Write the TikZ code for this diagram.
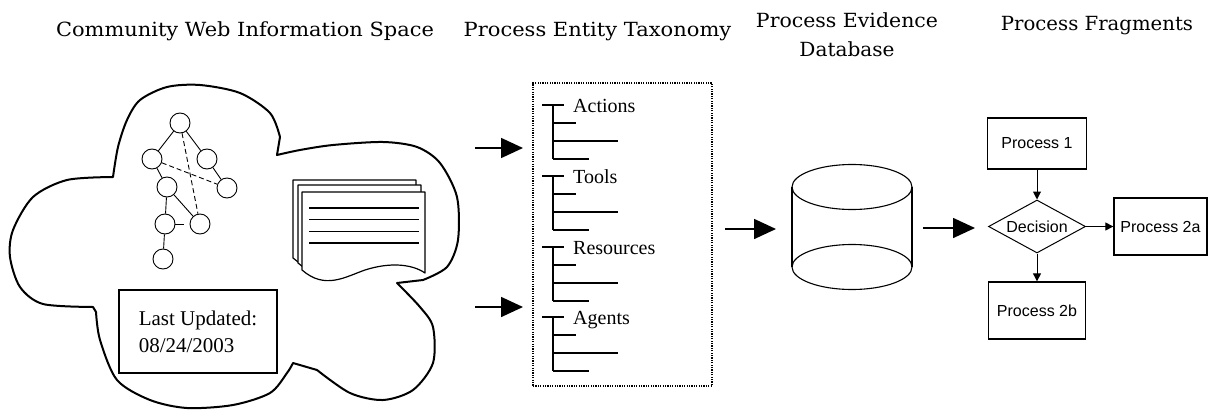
\documentclass[tikz,border=0pt]{standalone}
\usepackage{fontspec}
\setmainfont{Liberation Serif}
\newfontfamily\titlef{DejaVu Serif}
\newfontfamily\procf{Liberation Sans}
\usetikzlibrary{arrows.meta,shapes.geometric}
\begin{document}
\begin{tikzpicture}[x=1pt,y=-1pt,
  title/.style={font=\titlef\fontsize{19.5}{24}\selectfont, anchor=base, inner sep=0pt},
  bigarrow/.style={line width=1.6pt, -{Triangle[length=22pt,width=20pt]}},
  smallarrow/.style={line width=1pt, -{Triangle[length=8pt,width=8pt]}},
  gnode/.style={circle, draw, line width=0.9pt, minimum size=20pt, inner sep=0pt},
  gedge/.style={line width=0.9pt},
  gdash/.style={line width=0.9pt, dash pattern=on 5pt off 3pt},
  procbox/.style={draw, line width=1.3pt, font=\procf\fontsize{16}{19}\selectfont, inner sep=0pt},
  taxlabel/.style={font=\fontsize{20}{24}\selectfont, anchor=base west, inner sep=0pt},
  treeline/.style={line width=1.6pt},
  page/.style={draw, fill=white, line width=1.2pt, line join=round}]
\useasboundingbox (0,0) rectangle (1210,412);

% titles
\node[title] (t1) at (245,37) {\scalebox{1.074}[1]{Community Web Information Space}};
\node[title] (t2) at (597.5,37) {\scalebox{1.077}[1]{Process Entity Taxonomy}};
\node[title] (t3a) at (847,28) {\scalebox{1.05}[1]{Process Evidence}};
\node[title] (t3b) at (847,57) {\scalebox{1.03}[1]{Database}};
\node[title] (t4) at (1097,31) {\scalebox{1.01}[1]{Process Fragments}};

% cloud
\draw[line width=2pt, line join=round]
 plot[smooth] coordinates {(113,177) (67,180) (33,197) (13,230) (10,257) (20,287) (43,304) (93,307)}
 -- plot[smooth] coordinates {(96,312) (100,340) (117,380) (150,400) (187,408) (233,405) (270,393) (287,373) (293,363)}
 -- plot[smooth] coordinates {(317,370) (350,393) (383,400) (413,390) (433,363) (433,327) (420,307) (397,283)}
 -- plot[smooth] coordinates {(423,280) (447,267) (458,240) (457,197) (440,163) (417,147) (383,142) (333,145) (300,150) (277,155)}
 -- plot[smooth] coordinates {(280,137) (270,113) (240,93) (200,85) (167,87) (140,100) (127,120) (118,147) (113,177)}
 -- cycle;

% graph
\node[gnode] (n1) at (180,123) {};
\node[gnode] (n2) at (152,159) {};
\node[gnode] (n3) at (207,159) {};
\node[gnode] (n4) at (167,187) {};
\node[gnode] (n5) at (227,188) {};
\node[gnode] (n6) at (165,224) {};
\node[gnode] (n7) at (200,224) {};
\node[gnode] (n8) at (163,259) {};
\draw[gedge] (n1) -- (n2);
\draw[gedge] (n1) -- (n3);
\draw[gedge] (n3) -- (n5);
\draw[gedge] (n2) -- (n4);
\draw[gedge] (n4) -- (n6);
\draw[gedge] (n4) -- (n7);
\draw[gedge] (n6) -- (n8);
\draw[gdash] (n1) -- (n7);
\draw[gdash] (n2) -- (n5);
\draw[line width=0.9pt, dash pattern=on 9pt off 20pt] (n6) -- (n7);

% pages
\begin{scope}[shift={(-9,-12)}]
\path[page] (302,192) -- (425,192) -- (425,273) .. controls (412,264) and (390,262) .. (365,270) .. controls (345,277) and (325,290) .. (302,270) -- cycle;
\end{scope}
\begin{scope}[shift={(-4,-7)}]
\path[page] (302,192) -- (425,192) -- (425,273) .. controls (412,264) and (390,262) .. (365,270) .. controls (345,277) and (325,290) .. (302,270) -- cycle;
\end{scope}
\path[page] (302,192) -- (425,192) -- (425,273) .. controls (412,264) and (390,262) .. (365,270) .. controls (345,277) and (325,290) .. (302,270) -- cycle;
\foreach \yy in {208,219.5,231.5,243}{\draw[line width=1.2pt] (309,\yy) -- (419,\yy);}

% last updated
\node[draw, line width=1.3pt, minimum width=158pt, minimum height=83pt, align=left,
      font=\fontsize{21}{27}\selectfont] (upd) at (198,331.5) {Last Updated:\\08/24/2003};

% arrows into taxonomy
\coordinate (i1s) at (475,148); \coordinate (i1e) at (523,148);
\coordinate (i2s) at (475,307); \coordinate (i2e) at (523,307);
\draw[bigarrow] (i1s) -- (i1e);
\draw[bigarrow] (i2s) -- (i2e);

% taxonomy
\node[draw, line width=1.2pt, dash pattern=on 1.2pt off 1.2pt, minimum width=179pt,
      minimum height=303pt, inner sep=0pt] (tax) at (622.5,234.5) {};
\foreach \yy/\lab in {105/Actions,176/Tools,247/Resources,317/Agents}{
  \draw[treeline] (542,\yy) -- (564,\yy) (553,\yy) -- (553,\yy+54)
     (553,\yy+18) -- (576,\yy+18) (553,\yy+36) -- (618,\yy+36) (553,\yy+54) -- (589,\yy+54);
  \node[taxlabel] (lab-\lab) at (573,\yy+7) {\lab};
}

% arrow to database
\coordinate (d1s) at (725,229); \coordinate (d1e) at (776,229);
\draw[bigarrow] (d1s) -- (d1e);

% database cylinder
\draw[line width=1.1pt] (852,187) ellipse [x radius=60pt, y radius=22.5pt];
\draw[line width=1.1pt] (852,267) ellipse [x radius=60pt, y radius=22.5pt];
\draw[line width=1.1pt] (792,187) -- (792,267) (912,187) -- (912,267);

% arrow to fragments
\coordinate (f1s) at (923,228); \coordinate (f1e) at (975,228);
\draw[bigarrow] (f1s) -- (f1e);

% process fragments
\node[procbox, minimum width=99pt, minimum height=51pt] (p1) at (1037,143.5) {Process 1};
\node[diamond, draw, line width=1pt, minimum width=97pt, minimum height=53pt, inner sep=0pt,
      aspect=1.83, font=\procf\fontsize{16}{19}\selectfont] (dec) at (1037,226.5) {Decision};
\node[procbox, minimum width=93pt, minimum height=57pt] (p2a) at (1160.5,226.5) {Process 2a};
\node[procbox, minimum width=97pt, minimum height=57pt] (p2b) at (1037,310.5) {Process 2b};
\draw[smallarrow] (p1.south) -- (dec.north);
\draw[smallarrow] (dec.east) -- (p2a.west);
\draw[smallarrow] (dec.south) -- (p2b.north);
\end{tikzpicture}
\end{document}
